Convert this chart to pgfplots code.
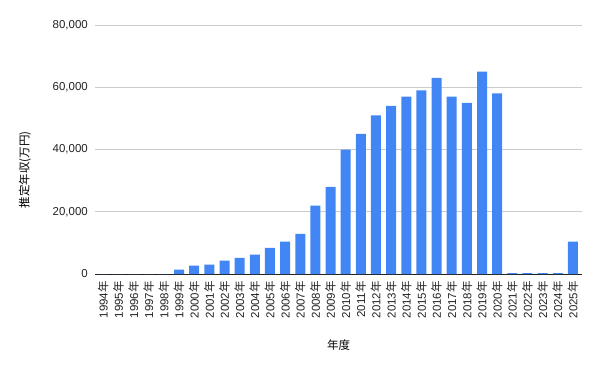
\documentclass[border=0pt]{standalone}
\usepackage{pgfplots}
\pgfplotsset{compat=1.18}
\usepackage{fontspec}
\setmainfont{Liberation Sans}
\newfontfamily\cjk{Noto Sans CJK JP}
\definecolor{barblue}{HTML}{4285F4}
\definecolor{gridgray}{HTML}{CCCCCC}
\definecolor{labgray}{HTML}{222222}
\begin{document}
\begin{tikzpicture}
\path[use as bounding box] (0,0) rectangle (601bp,371bp);
\begin{axis}[
  at={(95bp,97bp)}, anchor=south west,
  scale only axis, width=487bp, height=249bp,
  xmin=-0.55, xmax=31.6,
  ymin=0, ymax=80000,
  ytick={0,20000,40000,60000,80000},
  scaled y ticks=false,
  /pgf/number format/fixed,
  /pgf/number format/1000 sep={,},
  /pgf/number format/assume math mode=true,
  xtick={0,...,31},
  xticklabels={{1994{\cjk 年}},{1995{\cjk 年}},{1996{\cjk 年}},{1997{\cjk 年}},{1998{\cjk 年}},{1999{\cjk 年}},{2000{\cjk 年}},{2001{\cjk 年}},{2002{\cjk 年}},{2003{\cjk 年}},{2004{\cjk 年}},{2005{\cjk 年}},{2006{\cjk 年}},{2007{\cjk 年}},{2008{\cjk 年}},{2009{\cjk 年}},{2010{\cjk 年}},{2011{\cjk 年}},{2012{\cjk 年}},{2013{\cjk 年}},{2014{\cjk 年}},{2015{\cjk 年}},{2016{\cjk 年}},{2017{\cjk 年}},{2018{\cjk 年}},{2019{\cjk 年}},{2020{\cjk 年}},{2021{\cjk 年}},{2022{\cjk 年}},{2023{\cjk 年}},{2024{\cjk 年}},{2025{\cjk 年}}},
  xticklabel style={rotate=90, anchor=east, inner sep=0pt, font=\fontsize{11.5bp}{13bp}\selectfont, text=labgray},
  yticklabel style={inner sep=0pt, font=\fontsize{11.5bp}{13bp}\selectfont, text=labgray},
  xticklabel shift=7bp,
  yticklabel shift=7bp,
  major tick length=0pt,
  axis line style={draw=none},
  ymajorgrids,
  grid style={gridgray, line width=0.8bp},
  extra y ticks={0},
  extra y tick labels={},
  extra y tick style={grid style={labgray, line width=1bp}},
  ylabel={\cjk 推定年収(万円)},
  ylabel style={at={(axis description cs:-0.144,0.418)}, anchor=center, font=\fontsize{11.5bp}{13bp}\selectfont},
  xlabel={\cjk 年度},
  xlabel style={at={(axis description cs:0.5,-0.285)}, anchor=center, font=\fontsize{11.5bp}{13bp}\selectfont},
  clip=false,
]
\addplot[ybar, bar width=10bp, fill=barblue, draw=none] coordinates {
(0,0) (1,0) (2,0) (3,0) (4,0) (5,1400) (6,2700) (7,3000) (8,4300) (9,5200)
(10,6200) (11,8400) (12,10400) (13,12900) (14,22000) (15,28000) (16,40000)
(17,45000) (18,51000) (19,54000) (20,57000) (21,59000) (22,63000) (23,57000)
(24,55000) (25,65000) (26,58000) (27,300) (28,300) (29,300) (30,300) (31,10400)
};
\end{axis}
\end{tikzpicture}
\end{document}
